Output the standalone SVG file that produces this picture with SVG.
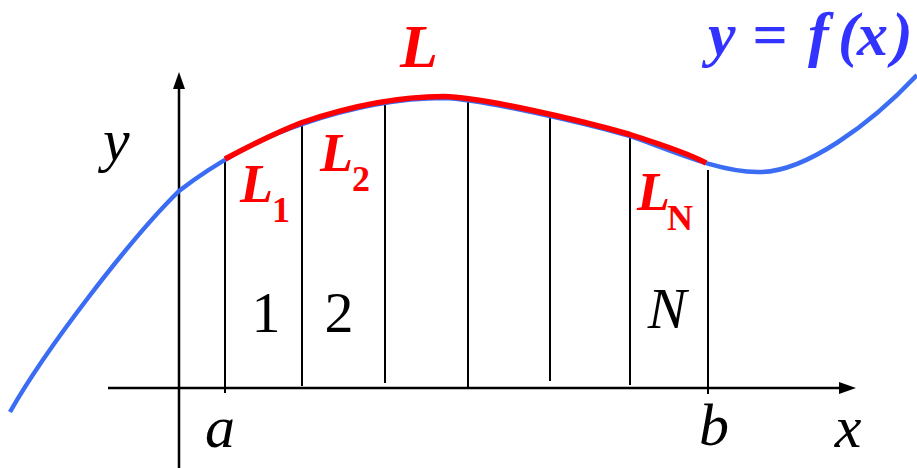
<svg xmlns="http://www.w3.org/2000/svg" width="917" height="468" viewBox="0 0 917 468">
<style>
.ax{stroke:#000;stroke-width:2.5;fill:none}
.vl{stroke:#000;stroke-width:2;fill:none}
.t{font-family:"Liberation Serif","Times New Roman",serif;font-style:italic}
.r{fill:#ff0000;font-weight:bold}
.up{font-style:normal}
</style>
<rect width="917" height="468" fill="#fff"/>
<g id="axes">
<line class="ax" x1="179" y1="468" x2="179" y2="86"/>
<polygon points="179,72 173,89 185,89" fill="#000"/>
<line class="ax" x1="108" y1="388" x2="842" y2="388"/>
<polygon points="856,388 839,382 839,394" fill="#000"/>
</g>
<g id="strips">
<line class="vl" x1="225" y1="159" x2="225" y2="393"/>
<line class="vl" x1="302" y1="123" x2="302" y2="386"/>
<line class="vl" x1="385" y1="104" x2="385" y2="383"/>
<line class="vl" x1="468" y1="99" x2="468" y2="387"/>
<line class="vl" x1="550" y1="117" x2="550" y2="381"/>
<line class="vl" x1="630" y1="136" x2="630" y2="385"/>
<line class="vl" x1="708" y1="170" x2="708" y2="394"/>
</g>
<g id="curve">
<path d="M10,412 C45,350 130,239 179,191 C215,163 262,137 302,124 C349,108 400,98 444,98 C480,99 580,122 630,136 C670,150 720,173 760,172 C805,172 870,125 917,75" fill="none" stroke="#3a6cf4" stroke-width="4.5"/>
<path d="M225,159 C255,143 280,131 302,122.5 C349,106.5 400,96.5 444,96.5 C480,97 580,120 630,134.5 C660,144 690,154 706,163" fill="none" stroke="#ff0000" stroke-width="5.5"/>
</g>
<g id="labels">
<text class="t r" x="400" y="67" font-size="62">L</text>
<text class="t" y="55" font-size="62" font-weight="bold" fill="#3333ff"><tspan x="708">y</tspan><tspan x="752">=</tspan><tspan x="808">f</tspan><tspan x="838">(</tspan><tspan x="857">x</tspan><tspan x="892">)</tspan></text>
<text class="t" x="103" y="160" font-size="60">y</text>
<text class="t r" x="240" y="202" font-size="54">L<tspan class="up" x="272" y="222" font-size="36">1</tspan></text>
<text class="t r" x="320" y="171" font-size="54">L<tspan class="up" x="352" y="191" font-size="36">2</tspan></text>
<text class="t r" x="637" y="210" font-size="54">L<tspan class="up" x="667" y="230" font-size="36">N</tspan></text>
<text class="t up" x="266" y="332" font-size="58" text-anchor="middle">1</text>
<text class="t up" x="339" y="332" font-size="58" text-anchor="middle">2</text>
<text class="t" x="667" y="328" font-size="58" text-anchor="middle">N</text>
<text class="t" x="220" y="447" font-size="60" text-anchor="middle">a</text>
<text class="t" x="714" y="445" font-size="60" text-anchor="middle">b</text>
<text class="t" x="848" y="447" font-size="60" text-anchor="middle">x</text>
</g>
</svg>
